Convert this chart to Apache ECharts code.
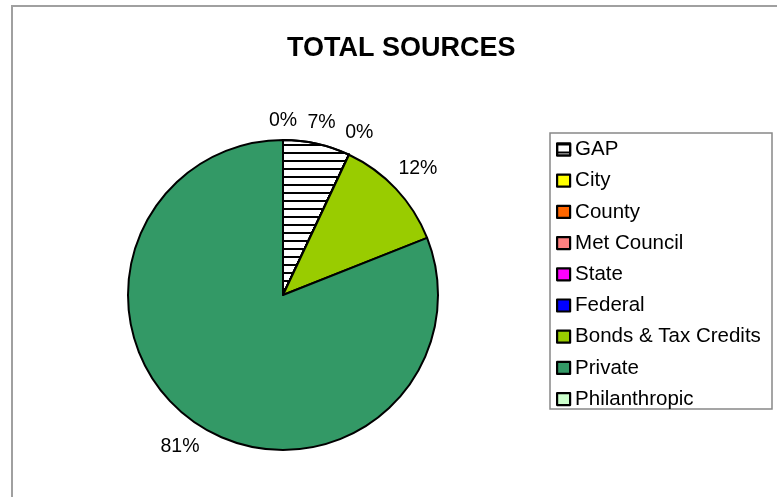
<!DOCTYPE html>
<html>
<head>
<meta charset="utf-8">
<script src="https://cdn.jsdelivr.net/npm/echarts@6/dist/echarts.min.js"></script>
<style>
  html, body { margin: 0; padding: 0; background: #fff; }
  #chart { width: 777px; height: 497px; }
</style>
</head>
<body>
<div id="chart"></div>
<script>
// Funding sources, share of total (%)
const categories = ['GAP', 'City', 'County', 'Met Council', 'State', 'Federal',
                    'Bonds & Tax Credits', 'Private', 'Philanthropic'];
const shares = [7, 0, 0, 0, 0, 0, 12, 81, 0];
const sliceColors = ['#ffffff', '#ffff00', '#ff6600', '#ff8080', '#ff00ff',
                     '#0000ff', '#99cc00', '#339966', '#ccffcc'];

const FONT = 'Liberation Sans, Arial, sans-serif';
const CENTER = [283, 295];
const RADIUS = 155;
const LABEL_GAP = 9;   // clearance between pie edge and the nearest side of a label box

// horizontal black stripes for the GAP slice
const stripes = {
  symbol: 'rect',
  symbolSize: 1,
  color: '#000',
  dashArrayX: [1, 0],
  dashArrayY: [1.6, 5.4],
  rotation: 0
};

const sliceData = categories.map((name, i) => ({
  name: name,
  value: shares[i],
  itemStyle: Object.assign(
    { color: sliceColors[i] },
    i === 0 ? { decal: stripes } : {}
  )
}));

const labelData = categories.map((name, i) => ({ name: name, value: shares[i] }));

// Push each percentage label outward along its own direction so the label box
// sits a fixed distance off the pie edge; stacked zero labels collapse to one.
function placeOutside(params) {
  const r = params.labelRect;
  const cx = r.x + r.width / 2;
  const cy = r.y + r.height / 2;
  const vx = cx - CENTER[0];
  const vy = cy - CENTER[1];
  const d = Math.hypot(vx, vy) || 1;
  const ux = vx / d, uy = vy / d;
  const target = RADIUS + LABEL_GAP + Math.abs(ux) * r.width / 2 + Math.abs(uy) * r.height / 2;
  return { dx: ux * target - vx, dy: uy * target - vy, hideOverlap: true };
}

const chart = echarts.init(document.getElementById('chart'), null, { renderer: 'canvas' });

chart.setOption({
  backgroundColor: '#fff',
  animation: false,
  title: {
    text: 'TOTAL SOURCES',
    left: 287,
    top: 35,
    padding: 0,
    textStyle: { fontFamily: FONT, fontSize: 27, fontWeight: 'bold', color: '#000' }
  },
  legend: {
    orient: 'vertical',
    left: 556,
    top: 139,
    padding: 0,
    itemGap: 10.2,
    itemWidth: 13,
    itemHeight: 12,
    icon: 'rect',
    data: categories,
    selectedMode: false,
    itemStyle: { borderColor: '#000', borderWidth: 2.2 },
    textStyle: { fontFamily: FONT, fontSize: 20.5, color: '#000', lineHeight: 20 }
  },
  graphic: [
    {
      type: 'rect',
      shape: { x: 12, y: 6, width: 800, height: 520 },
      style: { fill: null, stroke: '#a0a0a0', lineWidth: 2 },
      silent: true,
      z: -10
    },
    {
      type: 'rect',
      shape: { x: 550, y: 133, width: 222, height: 276 },
      style: { fill: null, stroke: '#888', lineWidth: 1.5 },
      silent: true,
      z: -10
    }
  ],
  series: [
    {
      name: 'Sources',
      type: 'pie',
      center: CENTER,
      radius: RADIUS,
      startAngle: 90,
      clockwise: true,
      avoidLabelOverlap: false,
      label: { show: false },
      labelLine: { show: false },
      itemStyle: { borderColor: '#000', borderWidth: 2 },
      emphasis: { disabled: true },
      data: sliceData
    },
    {
      // transparent ring carrying the percentage labels just outside the pie
      name: 'Labels',
      type: 'pie',
      center: CENTER,
      radius: [RADIUS + 17, RADIUS + 41],
      startAngle: 90,
      clockwise: true,
      silent: true,
      avoidLabelOverlap: false,
      itemStyle: { color: 'rgba(0,0,0,0)', borderWidth: 0 },
      emphasis: { disabled: true },
      label: {
        show: true,
        position: 'inside',
        formatter: '{c}%',
        fontFamily: FONT,
        fontSize: 19.5,
        color: '#000'
      },
      labelLine: { show: false },
      labelLayout: placeOutside,
      data: labelData
    }
  ]
});
</script>
</body>
</html>
